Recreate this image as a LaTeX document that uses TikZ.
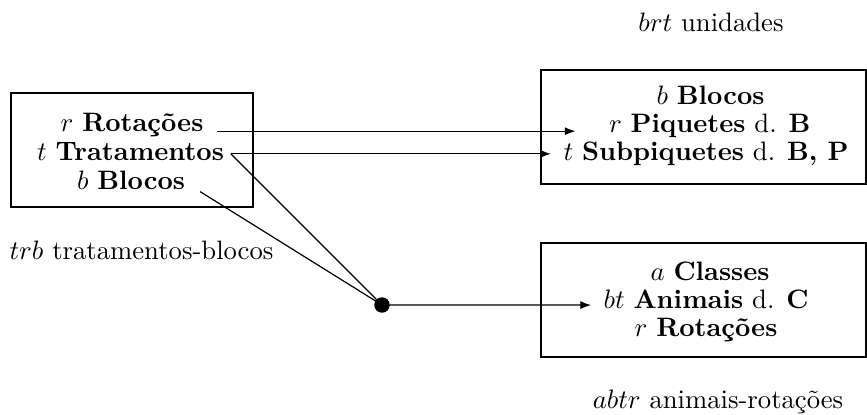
\documentclass[tikz,border=0pt]{standalone}
\usetikzlibrary{arrows.meta}
\begin{document}
\begin{tikzpicture}[x=0.375pt,y=-0.375pt,
  txt/.style={anchor=base,inner sep=0pt},
  boxnode/.style={draw,line width=0.5pt,inner sep=0pt},
  conn/.style={line width=0.45pt},
  arr/.style={line width=0.45pt,-{Latex[length=4pt,width=3pt]}},
  dotnode/.style={circle,fill=black,inner sep=0pt,minimum size=5.8pt}]
\useasboundingbox (0,0) rectangle (867,414);
% boxes
\node[boxnode,minimum width=90.75pt,minimum height=42.75pt] (L) at (132,150) {};
\node[boxnode,minimum width=121.9pt,minimum height=42.75pt] (RT) at (703.5,127) {};
\node[boxnode,minimum width=121.9pt,minimum height=42.75pt] (RB) at (703.5,300) {};
% left box text
\node[txt] (rot) at (132,131.7) {$r$ \textbf{Rotações}};
\node[txt] (trat) at (130.5,160.8) {$t$ \textbf{Tratamentos}};
\node[txt] (blo) at (131,189.5) {$b$ \textbf{Blocos}};
% right top box text
\node[txt] (rblo) at (710.5,104) {$b$ \textbf{Blocos}};
\node[txt] (piq) at (709.7,132.5) {$r$ \textbf{Piquetes} d. \textbf{B}};
\node[txt] (sub) at (706,160.8) {$t$ \textbf{Subpiquetes} d. \textbf{B, P}};
% right bottom box text
\node[txt] (cla) at (710,280) {$a$ \textbf{Classes}};
\node[txt] (ani) at (706,308) {$bt$ \textbf{Animais} d. \textbf{C}};
\node[txt] (rrot) at (706,336) {$r$ \textbf{Rotações}};
% labels
\node[txt] (lu) at (711,32) {$brt$ unidades};
\node[txt] (lt) at (141.5,259) {$trb$ tratamentos-blocos};
\node[txt] (la) at (718,408) {$abtr$ animais-rotações};
% dot
\node[dotnode] (dot) at (382,305) {};
% connectors
\draw[arr] ([xshift=5pt,yshift=0.2pt]rot.base east) -- ([xshift=-12.4pt,yshift=0.5pt]piq.base west);
\draw[arr] ([xshift=2.4pt,yshift=2.6pt]trat.base east) -- ([xshift=-4.5pt,yshift=2.6pt]sub.base west);
\draw[conn] ([xshift=2.4pt,yshift=2.6pt]trat.base east) -- (dot.center);
\draw[conn] ([xshift=5.5pt,yshift=-0.8pt]blo.base east) -- (dot.center);
\draw[arr] (dot.center) -- ([xshift=-4.5pt,yshift=1.1pt]ani.base west);
\end{tikzpicture}
\end{document}
